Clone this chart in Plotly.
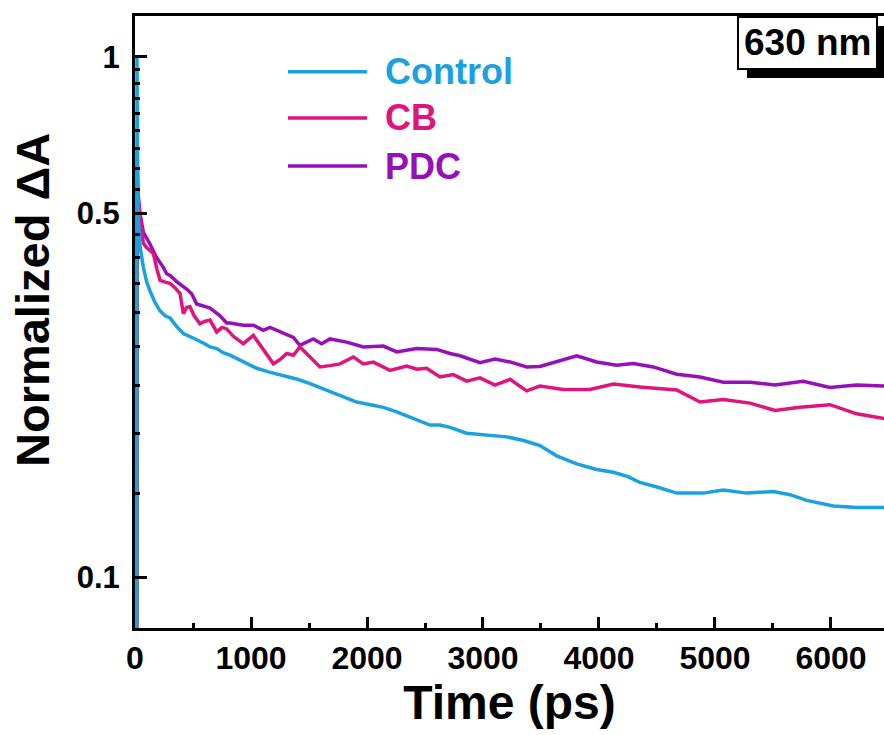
import plotly.graph_objects as go

# ---------------- data ----------------
control_t = [15, 17, 22, 30, 45, 72, 100, 129, 170, 216, 260, 302, 360, 417, 480, 532, 600, 647,
             704, 760, 819, 900, 963, 1049, 1150, 1279, 1400, 1509, 1600, 1681, 1800, 1911, 2050,
             2141, 2250, 2371, 2450, 2543, 2629, 2716, 2859, 3000, 3204, 3350, 3491, 3635, 3808,
             3980, 4124, 4250, 4353, 4500, 4670, 4899, 5072, 5273, 5503, 5647, 5790, 6020, 6221,
             6451, 6500]
control_v = [0.05, 1.0, 0.62, 0.48, 0.43, 0.394, 0.37, 0.355, 0.338, 0.325, 0.318, 0.315, 0.303,
             0.294, 0.289, 0.286, 0.281, 0.277, 0.275, 0.27, 0.267, 0.262, 0.258, 0.252, 0.248,
             0.244, 0.24, 0.2355, 0.231, 0.227, 0.222, 0.217, 0.214, 0.212, 0.208, 0.203, 0.2,
             0.196, 0.196, 0.194, 0.189, 0.188, 0.186, 0.183, 0.179, 0.171, 0.165, 0.161, 0.159,
             0.156, 0.152, 0.149, 0.145, 0.145, 0.147, 0.145, 0.146, 0.144, 0.1404, 0.137, 0.136,
             0.136, 0.136]

cb_t = [15, 18, 25, 43, 72, 100, 129, 158, 190, 216, 260, 302, 345, 388, 417, 445, 474, 510, 560,
        600, 647, 675, 704, 750, 790, 850, 934, 1020, 1100, 1193, 1250, 1308, 1365, 1422, 1500,
        1595, 1680, 1767, 1882, 1968, 2055, 2198, 2342, 2430, 2514, 2629, 2744, 2859, 2974, 3103,
        3233, 3376, 3491, 3692, 3922, 4124, 4353, 4670, 4871, 5072, 5302, 5517, 5733, 5991, 6221,
        6451, 6500]
cb_v = [0.05, 0.59, 0.53, 0.498, 0.438, 0.43, 0.424, 0.419, 0.39, 0.372, 0.369, 0.367, 0.36, 0.351,
        0.321, 0.33, 0.331, 0.318, 0.307, 0.31, 0.312, 0.305, 0.296, 0.302, 0.30, 0.29, 0.281,
        0.2915, 0.275, 0.257, 0.262, 0.269, 0.267, 0.277, 0.266, 0.2535, 0.255, 0.257, 0.265,
        0.257, 0.259, 0.2497, 0.2545, 0.251, 0.252, 0.2425, 0.245, 0.238, 0.2415, 0.234, 0.240,
        0.228, 0.233, 0.2295, 0.2295, 0.235, 0.232, 0.229, 0.217, 0.2195, 0.216, 0.209, 0.212,
        0.2145, 0.206, 0.2016, 0.201]

pdc_t = [15, 18, 25, 43, 72, 129, 187, 244, 273, 302, 359, 445, 490, 532, 590, 647, 733, 790, 819,
         934, 1020, 1106, 1164, 1250, 1365, 1422, 1537, 1609, 1681, 1825, 1968, 2141, 2256, 2428,
         2601, 2716, 2802, 2974, 3103, 3233, 3376, 3491, 3664, 3808, 3980, 4152, 4296, 4468, 4670,
         4871, 5072, 5302, 5517, 5761, 5991, 6221, 6451, 6500]
pdc_v = [0.05, 0.66, 0.55, 0.50, 0.46, 0.437, 0.411, 0.394, 0.383, 0.38, 0.37, 0.358, 0.35, 0.335,
         0.332, 0.329, 0.318, 0.308, 0.308, 0.305, 0.305, 0.298, 0.302, 0.296, 0.289, 0.279, 0.287,
         0.281, 0.287, 0.283, 0.277, 0.278, 0.271, 0.275, 0.274, 0.269, 0.2664, 0.2584, 0.2624,
         0.2592, 0.2535, 0.254, 0.261, 0.2664, 0.2592, 0.2555, 0.2573, 0.2535, 0.2454, 0.2425,
         0.237, 0.237, 0.234, 0.238, 0.2315, 0.234, 0.233, 0.233]

series_names = ["Control", "CB", "PDC"]
series_colors = ["#1BA1E2", "#E0147D", "#960FB9"]

x_tickvals = [0, 1000, 2000, 3000, 4000, 5000, 6000]
x_minor = [500, 1500, 2500, 3500, 4500, 5500]
y_tickvals = [0.1, 0.5, 1]
y_ticktext = ["0.1", "0.5", "1"]
y_minor = [0.1 + 0.4 * k / 9 for k in range(1, 9)] + [0.5 + 0.5 * k / 9 for k in range(1, 9)]

FONT = "Liberation Sans, Arial, sans-serif"

fig = go.Figure()
data = {"Control": (control_t, control_v), "CB": (cb_t, cb_v), "PDC": (pdc_t, pdc_v)}
# draw PDC, CB, then Control on top
for name in ["PDC", "CB", "Control"]:
    i = series_names.index(name)
    t, v = data[name]
    fig.add_trace(go.Scatter(x=t, y=v, mode="lines", name=name,
                             line=dict(color=series_colors[i], width=3.5),
                             showlegend=False))

fig.update_layout(
    width=884, height=735,
    margin=dict(l=135, r=0, t=16, b=107, pad=0),
    paper_bgcolor="white", plot_bgcolor="white",
    font=dict(family=FONT, color="black"),
    xaxis=dict(
        range=[0, 6457], tickvals=x_tickvals,
        ticks="inside", ticklen=11, tickwidth=3, tickcolor="black",
        showline=True, linewidth=3, linecolor="black", mirror=True,
        showgrid=False, zeroline=False,
        tickfont=dict(size=32, family=FONT, weight="bold"),
        minor=dict(tickvals=x_minor, ticks="inside", ticklen=5, tickwidth=3, tickcolor="black"),
        title=dict(text="Time (ps)", font=dict(size=48, family=FONT, weight="bold"), standoff=8),
    ),
    yaxis=dict(
        type="log", range=[-1.098, 0.0788],
        tickvals=y_tickvals, ticktext=y_ticktext,
        ticks="inside", ticklen=12, tickwidth=3, tickcolor="black",
        showline=True, linewidth=3, linecolor="black",
        showgrid=False, zeroline=False,
        tickfont=dict(size=31, family=FONT, weight="bold"),
        ticklabelstandoff=6,
        minor=dict(tickvals=y_minor, ticks="inside", ticklen=5, tickwidth=3, tickcolor="black"),
    ),
)

def px_x(p):
    return (p - 135) / 749.0

def px_y(p):
    return (628 - p) / 612.0

# y-axis title
fig.add_annotation(text="Normalized ΔA", textangle=-90, xref="paper", yref="paper",
                   x=px_x(32), y=px_y(300), xanchor="center", yanchor="middle",
                   showarrow=False, font=dict(size=47, family=FONT, weight="bold", color="black"))

# manual legend (long line samples, coloured labels)
legend_y = [71.7, 118, 166]
for i, name in enumerate(series_names):
    yy = px_y(legend_y[i])
    fig.add_shape(type="line", xref="paper", yref="paper", x0=px_x(288), x1=px_x(367),
                  y0=yy, y1=yy, line=dict(color=series_colors[i], width=3.5))
    fig.add_annotation(text=name, xref="paper", yref="paper", x=px_x(383), y=yy,
                       xanchor="left", yanchor="middle", showarrow=False,
                       font=dict(size=36, family=FONT, weight="bold", color=series_colors[i]))

# "630 nm" label box with shadow
fig.add_shape(type="rect", xref="paper", yref="paper", x0=px_x(747), x1=px_x(890),
              y0=px_y(78), y1=px_y(26), fillcolor="black", line=dict(width=0), layer="above")
fig.add_shape(type="rect", xref="paper", yref="paper", x0=px_x(738), x1=px_x(877),
              y0=px_y(69), y1=px_y(17), fillcolor="white", line=dict(color="black", width=2),
              layer="above")
fig.add_annotation(text="630 nm", xref="paper", yref="paper", x=px_x(807.5), y=px_y(43),
                   xanchor="center", yanchor="middle", showarrow=False,
                   font=dict(size=37, family=FONT, weight="bold", color="black"))

fig.write_html("out.html")
